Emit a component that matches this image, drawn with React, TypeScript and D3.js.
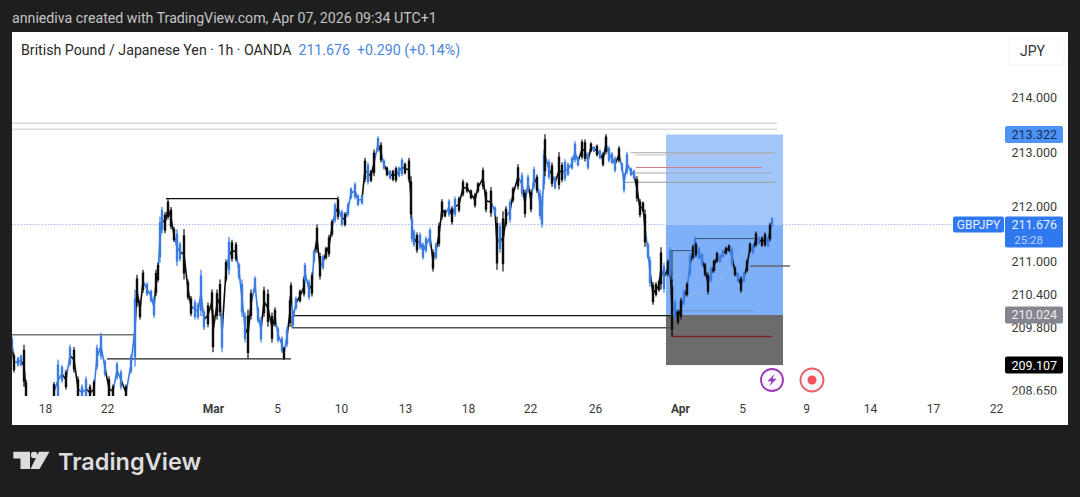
import React, {useEffect, useRef} from "react";
import * as d3 from "d3";

// bar numbers are counted from the left edge of the pane
const barNo = [
    0, 2, 6, 9, 12, 14, 42, 46, 50, 54, 58, 62, 66, 70, 74, 78, 82, 85, 89, 93,
    97, 101, 105, 109, 114, 119, 123, 125, 128, 131, 135, 139, 142, 144, 146, 148, 150, 153, 156, 159,
    162, 165, 168, 172, 176, 179, 183, 186, 189, 192, 196, 200, 201, 205, 208, 210, 214, 217, 220, 224,
    227, 230, 233, 236, 239, 243, 246, 249, 252, 256, 260, 263, 266, 270, 272, 275, 278, 279, 281, 284,
    288, 292, 293, 297, 300, 302, 305, 308, 311, 314, 317, 320, 323, 326, 330, 333, 336, 339, 343, 346,
    350, 353, 356, 359, 362, 366, 369, 372, 375, 378, 381, 384, 387, 390, 393, 397, 399, 400, 402, 405,
    408, 411, 414, 418, 421, 424, 427, 430, 433, 437, 440, 443, 447, 451, 455, 459, 463, 466, 471, 474,
    479, 483, 485, 488, 491, 494, 498, 501, 506, 510, 513, 516, 519, 522, 525, 528, 530, 532, 533, 537,
    540, 543, 547, 550, 553, 556, 560, 563, 566, 570, 573, 576, 579, 582, 585, 588, 591, 594, 597, 600,
    603, 607, 610, 612, 615, 619, 622, 625, 628, 631, 633, 636, 638, 641, 644, 647, 649, 652, 656, 658,
    660, 663, 666, 669, 672, 675, 678, 681, 683, 684, 687, 690, 693, 696, 699, 702, 705, 708, 711, 714,
    717, 720, 723, 726, 729, 732, 735, 738, 741, 744, 747, 750, 753, 756, 758, 760,
];
const highs = [
    209.63, 209.33, 209.26, 209.30, 209.48, 208.84, 208.80, 209.21, 209.11, 209.02, 209.48, 209.44, 208.90, 208.75, 208.90, 208.75, 208.84, 209.48, 209.70, 209.21,
    208.90, 208.75, 209.17, 209.02, 208.75, 209.30, 210.49, 210.76, 210.30, 210.85, 210.62, 210.49, 210.37, 210.85, 210.98, 211.82, 212.00, 211.90, 212.14, 212.00,
    211.63, 211.59, 211.36, 211.59, 210.67, 210.37, 210.30, 210.25, 210.85, 210.12, 210.25, 210.49, 210.12, 210.49, 210.67, 210.05, 211.04, 211.45, 211.40, 211.36,
    210.98, 210.67, 210.07, 210.12, 210.49, 210.73, 210.18, 209.99, 210.54, 210.49, 210.07, 210.16, 209.81, 209.63, 209.44, 209.81, 210.36, 210.62, 210.12, 210.36,
    210.49, 210.73, 210.98, 210.67, 210.80, 211.22, 211.68, 211.16, 211.13, 211.27, 211.49, 211.77, 212.08, 212.19, 211.95, 211.90, 212.08, 212.36, 212.45, 212.23,
    212.23, 212.90, 212.81, 212.68, 213.05, 213.29, 213.18, 212.87, 212.74, 212.68, 212.68, 212.74, 212.74, 212.90, 212.81, 212.90, 212.56, 211.82, 211.59, 211.53,
    211.53, 211.35, 211.46, 211.62, 211.22, 211.35, 211.71, 212.14, 211.95, 212.14, 212.01, 212.19, 212.19, 212.50, 212.45, 212.32, 212.26, 212.45, 212.72, 212.32,
    212.36, 212.01, 211.82, 211.71, 211.92, 212.01, 212.14, 212.37, 212.78, 212.63, 212.32, 212.59, 212.32, 212.74, 212.59, 212.32, 212.19, 213.05, 213.33, 212.87,
    212.81, 212.56, 213.00, 212.81, 212.87, 212.81, 212.92, 213.20, 212.92, 213.23, 213.23, 213.00, 213.18, 213.11, 213.14, 213.05, 213.00, 213.33, 213.11, 213.00,
    212.92, 213.11, 212.81, 212.63, 213.01, 212.72, 212.68, 212.56, 212.14, 212.10, 211.95, 211.35, 211.09, 210.62, 210.62, 210.67, 211.26, 210.98, 211.04, 211.26,
    210.67, 210.30, 210.12, 210.34, 210.49, 210.62, 211.16, 211.31, 211.46, 211.35, 211.27, 211.16, 210.98, 210.80, 210.91, 211.04, 211.18, 211.13, 211.22, 211.27,
    211.31, 211.26, 210.91, 210.80, 210.73, 210.82, 211.04, 211.35, 211.31, 211.55, 211.46, 211.46, 211.53, 211.46, 211.71, 211.81,
];
const lows = [
    209.34, 208.97, 209.08, 209.08, 208.71, 208.45, 208.45, 208.45, 208.78, 208.66, 209.08, 208.97, 208.45, 208.45, 208.45, 208.45, 208.50, 209.02, 209.21, 208.90,
    208.45, 208.50, 208.84, 208.66, 208.45, 208.95, 209.08, 210.18, 209.94, 210.43, 210.37, 210.25, 209.97, 210.37, 210.62, 210.98, 211.52, 211.52, 211.77, 211.59,
    211.36, 210.92, 211.00, 210.67, 210.30, 210.00, 209.94, 209.94, 210.00, 209.75, 209.80, 210.05, 209.34, 209.94, 210.00, 209.34, 210.62, 210.76, 211.00, 211.00,
    210.67, 209.99, 209.52, 209.22, 209.94, 210.43, 209.88, 209.52, 209.99, 209.81, 209.52, 209.81, 209.52, 209.33, 209.20, 209.44, 209.81, 210.18, 209.79, 210.12,
    210.25, 210.36, 210.62, 210.30, 210.36, 210.98, 211.16, 210.67, 210.85, 211.04, 211.09, 211.46, 211.71, 211.77, 211.64, 211.64, 211.82, 212.14, 212.14, 212.01,
    212.04, 212.45, 212.41, 212.45, 212.56, 213.00, 212.81, 212.68, 212.56, 212.50, 212.47, 212.45, 212.54, 212.56, 212.59, 212.45, 211.77, 211.35, 211.27, 211.16,
    211.22, 211.04, 211.16, 211.27, 210.82, 211.04, 211.27, 211.77, 211.81, 211.82, 211.68, 211.82, 211.90, 212.19, 212.26, 212.14, 211.99, 212.26, 212.32, 211.90,
    211.82, 211.82, 210.85, 211.16, 210.82, 211.64, 211.71, 212.08, 212.32, 212.19, 211.81, 212.26, 211.90, 212.32, 212.26, 211.77, 211.62, 212.32, 212.56, 212.50,
    212.37, 212.32, 212.32, 212.45, 212.47, 212.56, 212.68, 212.81, 212.74, 212.87, 212.83, 212.68, 213.00, 213.00, 212.92, 212.87, 212.74, 212.96, 212.81, 212.78,
    212.63, 212.81, 212.65, 212.26, 212.59, 212.56, 212.50, 212.10, 211.81, 211.90, 211.27, 211.04, 210.54, 210.21, 210.36, 210.45, 210.49, 210.43, 210.73, 210.67,
    209.63, 209.94, 209.85, 209.94, 210.21, 210.36, 210.73, 211.04, 211.07, 211.09, 211.04, 210.91, 210.73, 210.40, 210.62, 210.80, 210.98, 210.98, 211.07, 211.13,
    211.18, 210.91, 210.73, 210.62, 210.43, 210.62, 210.80, 211.16, 211.13, 211.27, 211.31, 211.27, 211.27, 211.26, 211.37, 211.64,
];
// u = rising candle, d = falling candle
const directions = [
    "uduud", "dduud", "udduu", "dduuu", "dd",
    "uuduu", "ddduu", "udduu", "ddddu", "u",
    "ddduu", "uuddd", "ddudu", "dduuu",
    "dduuu", "dddd", "uudu", "ddu",
    "uddu", "ududd", "udddu", "dudu",
    "uuuu", "dudd", "ud", "ududd", "uuddd", "uud", "uuuu",
    "dudd", "dudu", "ddd", "ddddd", "dudu",
    "ddudd", "ududu", "du", "uudu", "dudd",
    "uuuuu", "ddud", "ududd", "uuud", "uuuuu",
    "ddddu", "uddd", "dudu", "dudd", "ududu", "du",
    "uddu", "dduu", "ddud", "ududd", "udud", "dudu", "udu",
    "ddudd", "uddu", "dddd", "dudu", "d", "u", "udd", "uudd",
    "ddduu", "uudd", "dddu", "uuduu", "du",
    "ddddd", "uudu", "dduu", "ddu", "dddu", "uuuu", "uddd", "dddd",
    "dddd", "uu",
].join("");

const priceTicks = [214, 213, 212, 211, 210.4, 209.8, 208.65];
const timeLabels = ["18", "22", "Mar", "5", "10", "13", "18", "22", "26", "Apr", "5", "9", "14", "17", "22"];
const timeBars = [33, 95, 201, 265, 329, 393, 456, 518, 583, 668, 730, 794, 858, 921, 984];
const monthLabels = ["Mar", "Apr"];

const lastPrice = 211.676;
const targetPrice = 213.322;
const entryPrice = 210.024;
const stopPrice = 209.107;

// price, first bar, last bar, colour, width
const levelLines: Array<[number, number, number, string, number]> = [
    [213.53, 0, 765, "#dcdcdc", 1.5],
    [213.42, 0, 765, "#dcdcdc", 1.5],
    [212.15, 154, 326, "#111111", 1.2],
    [209.66, 0, 123, "#777777", 1.5],
    [209.22, 95, 279, "#222222", 1.1],
    [210.01, 280, 660, "#111111", 1.2],
    [209.79, 280, 660, "#555555", 1.5],
    [212.99, 619, 763, "#a8a8a8", 1],
    [212.95, 623, 756, "#bcbcbc", 1],
    [212.72, 624, 750, "#cf7f86", 1.2],
    [212.62, 624, 760, "#a8a8a8", 1],
    [212.45, 613, 763, "#999999", 1],
    [211.42, 683, 745, "#3c4f70", 1],
    [211.2, 658, 683, "#3c4f70", 1],
    [210.92, 738, 778, "#666666", 1.5],
    [210.1, 668, 741, "#6f93c8", 1],
    [209.63, 660, 760, "#7b2227", 1.3],
];
const rangeLines = [
    {bar: 280, top: 210.01, bottom: 209.79},
    {bar: 660, top: 211.2, bottom: 209.63},
];

const App = () => {
    const svgRef = useRef<SVGSVGElement | null>(null);

    useEffect(() => {
        const svg = d3.select(svgRef.current);
        svg.selectAll("*").remove();

        const x = d3.scaleLinear().domain([0, 1056]).range([12, 1068]);
        const y = d3.scaleLinear().domain([208.56, 214]).range([395, 97.5]);
        const font = "Roboto, sans-serif";

        svg.append("rect").attr("width", 1080).attr("height", 497).attr("fill", "#1e1e1e");
        svg.append("rect").attr("x", 12).attr("y", 32).attr("width", 1056).attr("height", 393).attr("fill", "#ffffff");

        const defs = svg.append("defs");
        defs.append("clipPath").attr("id", "pane").append("rect")
            .attr("x", 12).attr("y", 70).attr("width", 990).attr("height", 326);
        defs.append("clipPath").attr("id", "scale").append("rect")
            .attr("x", 1000).attr("y", 70).attr("width", 68).attr("height", 324.5);
        defs.append("filter").attr("id", "soft").append("feGaussianBlur").attr("stdDeviation", 0.3);

        svg.append("text").attr("x", 12).attr("y", 23).attr("font-family", font).attr("font-size", 14.2)
            .attr("fill", "#c4c4c4").text("anniediva created with TradingView.com, Apr 07, 2026 09:34 UTC+1");

        const title = svg.append("text").attr("x", 21).attr("y", 55).attr("font-family", font).attr("font-size", 14.2);
        title.append("tspan").attr("fill", "#2a2a2a").text("British Pound / Japanese Yen · 1h · OANDA");
        title.append("tspan").attr("dx", 7).attr("fill", "#4a86e0").text(lastPrice.toFixed(3));
        title.append("tspan").attr("dx", 7).attr("fill", "#4a86e0").text("+0.290 (+0.14%)");

        // long position box
        const pane = svg.append("g").attr("clip-path", "url(#pane)");
        const boxX = x(654);
        const boxW = x(771) - x(654);
        const zones: Array<[number, number, string]> = [
            [targetPrice, lastPrice, "#a1c6fa"],
            [lastPrice, entryPrice, "#7db0f9"],
            [entryPrice, stopPrice, "#6c6c6c"],
        ];
        pane.selectAll("rect.zone").data(zones).enter().append("rect")
            .attr("x", boxX).attr("width", boxW)
            .attr("y", (d) => y(d[0]))
            .attr("height", (d) => y(d[1]) - y(d[0]))
            .attr("fill", (d) => d[2]);

        // last price line
        pane.append("line").attr("x1", x(0)).attr("x2", 952)
            .attr("y1", y(lastPrice)).attr("y2", y(lastPrice))
            .attr("stroke", "#aeb9ee").attr("stroke-dasharray", "1.5 1.5");

        pane.selectAll("line.level").data(levelLines).enter().append("line")
            .attr("x1", (d) => x(d[1])).attr("x2", (d) => x(d[2]))
            .attr("y1", (d) => y(d[0])).attr("y2", (d) => y(d[0]))
            .attr("stroke", (d) => d[3]).attr("stroke-width", (d) => d[4]);
        pane.selectAll("line.range").data(rangeLines).enter().append("line")
            .attr("x1", (d) => x(d.bar)).attr("x2", (d) => x(d.bar))
            .attr("y1", (d) => y(d.top)).attr("y2", (d) => y(d.bottom))
            .attr("stroke", "#333333").attr("stroke-width", 1);

        // faint dashed path inside the box
        pane.append("line").attr("x1", x(675)).attr("x2", x(696)).attr("y1", y(210.42)).attr("y2", y(210.42))
            .attr("stroke", "#9fb3cf").attr("stroke-dasharray", "3 2");
        pane.append("line").attr("x1", x(696)).attr("x2", x(738)).attr("y1", y(210.46)).attr("y2", y(211.29))
            .attr("stroke", "#a9bcd6").attr("stroke-dasharray", "3 3");

        // candles, with a stroke from each one to the next so the run reads as solid
        const candles = barNo.map((bar, i) => ({bar, high: highs[i], low: lows[i], up: directions[i] === "u"}));
        const colour = (up: boolean) => (up ? "#3a7be0" : "#0c0c0c");
        const mid = (d: {high: number, low: number}) => y((d.high + d.low) / 2);
        const trace = pane.append("g").attr("filter", "url(#soft)");
        const links = d3.pairs(candles).filter(([a, b]) => b.bar - a.bar < 10);
        trace.selectAll("line.link").data(links).enter().append("line")
            .attr("x1", (d) => x(d[0].bar)).attr("x2", (d) => x(d[1].bar))
            .attr("y1", (d) => mid(d[0])).attr("y2", (d) => mid(d[1]))
            .attr("stroke", (d) => colour(d[1].up)).attr("stroke-width", 1.6);
        const group = trace.selectAll("g.candle").data(candles).enter().append("g");
        group.append("line")
            .attr("x1", (d) => x(d.bar)).attr("x2", (d) => x(d.bar))
            .attr("y1", (d) => y(d.high)).attr("y2", (d) => y(d.low))
            .attr("stroke", (d) => colour(d.up)).attr("stroke-width", 1.2);
        group.append("rect")
            .attr("x", (d) => x(d.bar) - 1.2).attr("width", 2.4)
            .attr("y", (d) => y(d.high) + (y(d.low) - y(d.high)) * 0.12)
            .attr("height", (d) => (y(d.low) - y(d.high)) * 0.76)
            .attr("fill", (d) => colour(d.up));

        // price scale
        const scale = svg.append("g").attr("clip-path", "url(#scale)");
        const yAxis = scale.append("g").attr("transform", "translate(1057,0)")
            .call(d3.axisRight(y).tickValues(priceTicks).tickSize(0).tickFormat(d3.format(".3f") as any));
        yAxis.select(".domain").remove();
        yAxis.selectAll("text")
            .attr("x", 0).attr("text-anchor", "end")
            .attr("font-family", font).attr("font-size", 12.5).attr("fill", "#3c3c3c");

        const tags: Array<[number, number, string, string, string]> = [
            [targetPrice, 17, "#4f93f7", "#12305f", targetPrice.toFixed(3)],
            [entryPrice, 17, "#85858f", "#ececec", entryPrice.toFixed(3)],
            [stopPrice, 17, "#000000", "#ffffff", stopPrice.toFixed(3)],
        ];
        tags.forEach(([price, h, fill, ink, label]) => {
            scale.append("rect").attr("x", 1005).attr("width", 58).attr("height", h)
                .attr("y", y(price) - h / 2).attr("rx", 2).attr("fill", fill);
            scale.append("text").attr("x", 1057).attr("y", y(price) + 4.5).attr("text-anchor", "end")
                .attr("font-family", font).attr("font-size", 12.5).attr("fill", ink).text(label);
        });

        // symbol and last price tag
        const lastY = y(lastPrice);
        svg.append("rect").attr("x", 953).attr("y", lastY - 8).attr("width", 51).attr("height", 16).attr("rx", 2).attr("fill", "#2f78ee");
        svg.append("text").attr("x", 978.5).attr("y", lastY + 4.5).attr("text-anchor", "middle")
            .attr("font-family", font).attr("font-size", 12).attr("fill", "#e8f0ff").text("GBPJPY");
        svg.append("rect").attr("x", 1005).attr("y", lastY - 8).attr("width", 58).attr("height", 31).attr("rx", 2).attr("fill", "#2f78ee");
        svg.append("text").attr("x", 1057).attr("y", lastY + 4.5).attr("text-anchor", "end")
            .attr("font-family", font).attr("font-size", 12.5).attr("fill", "#e8f0ff").text(lastPrice.toFixed(3));
        svg.append("text").attr("x", 1043).attr("y", lastY + 19).attr("text-anchor", "end")
            .attr("font-family", font).attr("font-size", 11.5).attr("fill", "#b9d3ff").text("25:28");

        // JPY button
        svg.append("rect").attr("x", 1009).attr("y", 38).attr("width", 55).attr("height", 27).attr("rx", 3)
            .attr("fill", "#ffffff").attr("stroke", "#f4f4f4");
        svg.append("text").attr("x", 1032.5).attr("y", 56).attr("text-anchor", "middle")
            .attr("font-family", font).attr("font-size", 14).attr("fill", "#333333").text("JPY");

        // time scale
        const timeAxis = svg.append("g").attr("transform", "translate(0,396)")
            .call(d3.axisBottom(x).tickValues(timeBars).tickSize(0)
                .tickFormat(((d: number) => timeLabels[timeBars.indexOf(d)]) as any));
        timeAxis.select(".domain").remove();
        timeAxis.selectAll("text")
            .attr("y", 13).attr("dy", "0.35em")
            .attr("font-family", font).attr("font-size", 12).attr("fill", "#3c3c3c")
            .attr("font-weight", (d: any, i: number) => (monthLabels.includes(timeLabels[i]) ? 700 : 400));

        // icons
        const bolt = svg.append("g").attr("transform", "translate(772,380)");
        bolt.append("circle").attr("r", 11).attr("fill", "#fbf7fd").attr("stroke", "#9c36b5").attr("stroke-width", 1.8);
        bolt.append("path").attr("d", "M2.5,-6 L-4.5,1.2 L-0.5,1.2 L-2.5,6 L4.5,-1.2 L0.5,-1.2 Z").attr("fill", "#9c36b5");
        const rec = svg.append("g").attr("transform", "translate(812,380)");
        rec.append("circle").attr("r", 11.5).attr("fill", "#f5f7fb").attr("stroke", "#ee5a62").attr("stroke-width", 1.8);
        rec.append("circle").attr("r", 4.5).attr("fill", "#f4505a");

        // logo
        const logo = svg.append("g").attr("fill", "#dcdcdc");
        logo.append("path").attr("d", "M13.3,451.7 H30 V469 H20.5 V458.4 H13.3 Z");
        logo.append("circle").attr("cx", 34.2).attr("cy", 455).attr("r", 3.3);
        logo.append("path").attr("d", "M39,451.7 H49.5 L39.5,469 H30.5 Z");
        svg.append("text").attr("x", 58).attr("y", 470).attr("font-family", "Inter, Roboto, sans-serif")
            .attr("font-size", 23.5).attr("font-weight", 600).attr("fill", "#dcdcdc").text("TradingView");
    }, []);

    return <svg ref={svgRef} width={1080} height={497} style={{position: "absolute", left: 0, top: 0}}></svg>;
};

export default App;
